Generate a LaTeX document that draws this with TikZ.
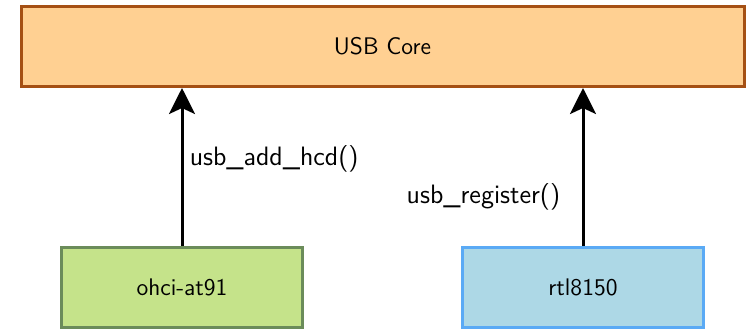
\documentclass[tikz,border=0pt]{standalone}
\usetikzlibrary{arrows.meta}

\definecolor{coreFill}{RGB}{255,208,146}
\definecolor{coreDraw}{RGB}{165,80,20}
\definecolor{hcdFill}{RGB}{197,227,138}
\definecolor{hcdDraw}{RGB}{107,140,90}
\definecolor{drvFill}{RGB}{173,216,230}
\definecolor{drvDraw}{RGB}{90,170,245}

\tikzset{every picture/.style={line width=0.75pt}}
\tikzset{
  blk/.style={rectangle, line width=1.5pt, inner sep=0pt, font=\sffamily\fontsize{12}{14}\selectfont},
  call/.style={line width=1.5pt, -{Stealth[length=13pt,width=13pt,inset=3pt]}},
  lbl/.style={inner sep=0pt, font=\sffamily\fontsize{13.3}{15}\selectfont}
}

\begin{document}
\begin{tikzpicture}[x=0.5pt,y=0.5pt,yscale=-1]
	\useasboundingbox (0,0) rectangle (749,329);

	% USB core block
	\node [blk, draw=coreDraw, fill=coreFill, minimum width=361.5pt, minimum height=40pt] (core) at (382.5,46.5) {USB Core};
	% host controller driver
	\node [blk, draw=hcdDraw, fill=hcdFill, minimum width=120.5pt, minimum height=40pt] (ohci) at (182,287.5) {ohci-at91};
	% device driver
	\node [blk, draw=drvDraw, fill=drvFill, minimum width=120.5pt, minimum height=40pt] (rtl) at (583,287.5) {rtl8150};

	% calls up into the core
	\draw [call] (ohci.north) -- (ohci.north |- core.south) ;
	\draw [call] (rtl.north) -- (rtl.north |- core.south) ;

	% Text Node
	\node [lbl, anchor=west] (addhcd) at (189,159) {usb\_add\_hcd()};
	% Text Node
	\node [lbl, anchor=east] (register) at (561,197) {usb\_register()};

\end{tikzpicture}
\end{document}
